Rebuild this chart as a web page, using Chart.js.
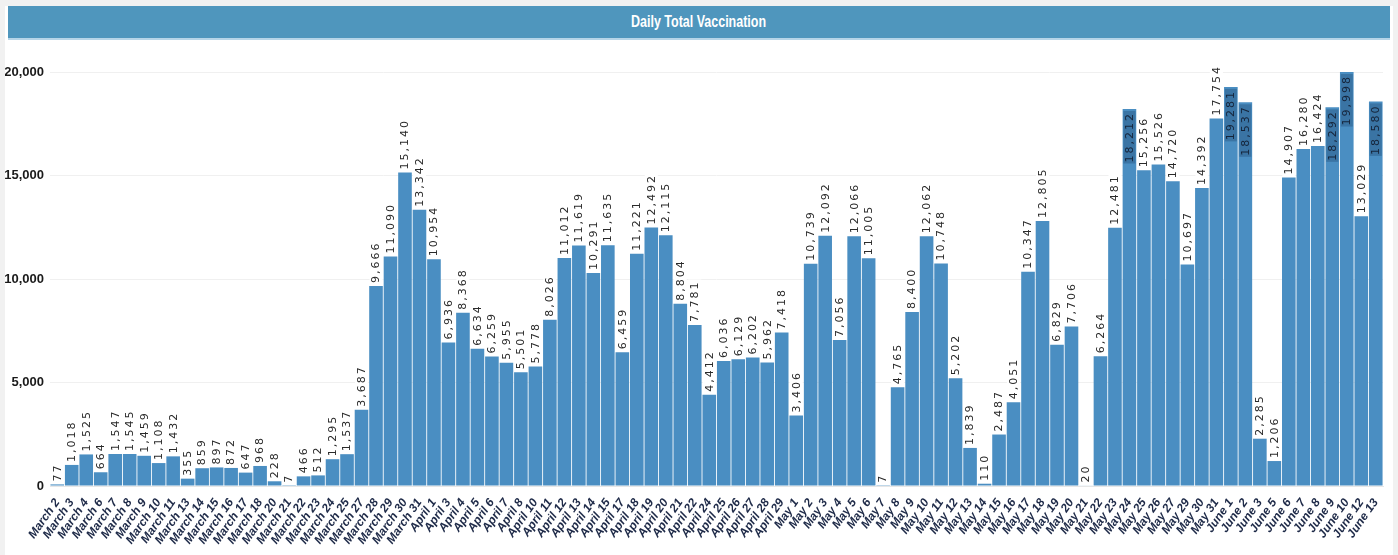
<!DOCTYPE html>
<html>
<head>
<meta charset="utf-8">
<script src="https://cdn.jsdelivr.net/npm/chart.js@4.4.1/dist/chart.umd.min.js"></script>
<style>
  body { margin: 0; background: #f1f1f1; width: 1398px; height: 555px; overflow: hidden; }
  #panel { position: absolute; left: 5px; top: 6px; width: 1388px; height: 549px; background: #fff; }
  #title {
    position: absolute; left: 3px; top: 0; width: 1382px; height: 32px;
    background: #4f96bd; color: #fff; text-align: center;
    font: bold 16px "Liberation Sans", sans-serif;
    line-height: 32px;
    box-shadow: 0 2px 0 #b6d5e8;
  }
  #title span { display: inline-block; transform: scaleX(0.78); }
  #wrap { position: absolute; left: 0; top: 34px; width: 1388px; height: 515px; }
</style>
</head>
<body>
<div id="panel">
  <div id="title"><span>Daily Total Vaccination</span></div>
  <div id="wrap"><canvas id="chart"></canvas></div>
</div>
<script>
// days with reported doses (gaps are days with no report)
const days = [
  'March 2', 'March 3', 'March 4', 'March 6', 'March 7', 'March 8', 'March 9', 'March 10', 'March 11',
  'March 13', 'March 14', 'March 15', 'March 16', 'March 17', 'March 18', 'March 20', 'March 21',
  'March 22', 'March 23', 'March 24', 'March 25', 'March 27', 'March 28', 'March 29', 'March 30', 'March 31',
  'April 1', 'April 3', 'April 4', 'April 5', 'April 6', 'April 7', 'April 8', 'April 10', 'April 11',
  'April 12', 'April 13', 'April 14', 'April 15', 'April 17', 'April 18', 'April 19', 'April 20',
  'April 21', 'April 22', 'April 24', 'April 25', 'April 26', 'April 27', 'April 28', 'April 29',
  'May 1', 'May 2', 'May 3', 'May 4', 'May 5', 'May 6', 'May 7', 'May 8', 'May 9', 'May 10', 'May 11',
  'May 12', 'May 13', 'May 14', 'May 15', 'May 16', 'May 17', 'May 18', 'May 19', 'May 20', 'May 21',
  'May 22', 'May 23', 'May 24', 'May 25', 'May 26', 'May 27', 'May 29', 'May 30', 'May 31',
  'June 1', 'June 2', 'June 3', 'June 5', 'June 6', 'June 7', 'June 8', 'June 9', 'June 10', 'June 12', 'June 13'
];

const dailyDoses = [
  77, 1018, 1525, 664, 1547, 1545, 1459, 1108, 1432,
  355, 859, 897, 872, 647, 968, 228, 7,
  466, 512, 1295, 1537, 3687, 9666, 11090, 15140, 13342,
  10954, 6936, 8368, 6634, 6259, 5955, 5501, 5778, 8026,
  11012, 11619, 10291, 11635, 6459, 11221, 12492, 12115,
  8804, 7781, 4412, 6036, 6129, 6202, 5962, 7418,
  3406, 10739, 12092, 7056, 12066, 11005, 7, 4765, 8400, 12062, 10748,
  5202, 1839, 110, 2487, 4051, 10347, 12805, 6829, 7706, 20,
  6264, 12481, 18212, 15256, 15526, 14720, 10697, 14392, 17754,
  19281, 18537, 2285, 1206, 14907, 16280, 16424, 18292, 19998, 13029, 18580
];

const yTicks = [0, 5000, 10000, 15000, 20000];

// vertical value labels above each bar (inside the bar when it is near the top)
const barLabels = {
  id: 'barLabels',
  afterDatasetsDraw(chart) {
    const ctx = chart.ctx;
    const meta = chart.getDatasetMeta(0);
    ctx.save();
    ctx.font = '11px "DejaVu Sans", sans-serif';
    ctx.letterSpacing = '2px';
    ctx.textBaseline = 'middle';
    meta.data.forEach((bar, i) => {
      const v = dailyDoses[i];
      const txt = v.toLocaleString('en-US');
      const w = ctx.measureText(txt).width;
      ctx.save();
      ctx.translate(bar.x, bar.y);
      ctx.rotate(-Math.PI / 2);
      if (v >= 18000) {
        ctx.fillStyle = 'rgba(30,70,110,0.35)';
        ctx.fillRect(-w - 4, -6, w + 2, 12);
        ctx.fillStyle = '#15243a';
        ctx.textAlign = 'right';
        ctx.fillText(txt, -3, 0.5);
      } else {
        ctx.fillStyle = '#fff';
        ctx.fillRect(1, -6.5, w + 3, 13);
        ctx.fillStyle = '#2a2a2a';
        ctx.textAlign = 'left';
        ctx.fillText(txt, 3, 0.5);
      }
      ctx.restore();
    });
    ctx.restore();
  }
};

new Chart(document.getElementById('chart'), {
  type: 'bar',
  data: {
    labels: days,
    datasets: [{
      label: 'Daily Total Vaccination',
      data: dailyDoses,
      backgroundColor: '#4a8ec2',
      barPercentage: 0.94,
      categoryPercentage: 1,
    }],
  },
  options: {
    responsive: true,
    maintainAspectRatio: false,
    animation: false,
    layout: { padding: { top: 32, right: 10, left: 0, bottom: 0 } },
    plugins: {
      legend: { display: false },
      tooltip: { enabled: false },
    },
    scales: {
      x: {
        grid: { display: false },
        border: { color: '#e6e6e6' },
        afterFit: (scale) => { scale.height = 69; },
        ticks: {
          autoSkip: false,
          minRotation: 55,
          maxRotation: 55,
          padding: 2,
          color: '#1e2a48',
          font: { family: '"Liberation Sans", sans-serif', size: 12, weight: 'bold', style: 'italic' },
        },
      },
      y: {
        min: 0,
        max: 20000,
        afterFit: (scale) => { scale.width = 45; },
        afterBuildTicks: (scale) => { scale.ticks = yTicks.map(v => ({ value: v })); },
        grid: { color: '#f0f0f0', drawTicks: false },
        border: { display: false },
        ticks: {
          padding: 6,
          color: '#1a1a1a',
          font: { family: '"Liberation Sans Narrow", sans-serif', size: 13, weight: 'bold' },
          callback: (v) => v.toLocaleString('en-US'),
        },
      },
    },
  },
  plugins: [barLabels],
});
</script>
</body>
</html>
